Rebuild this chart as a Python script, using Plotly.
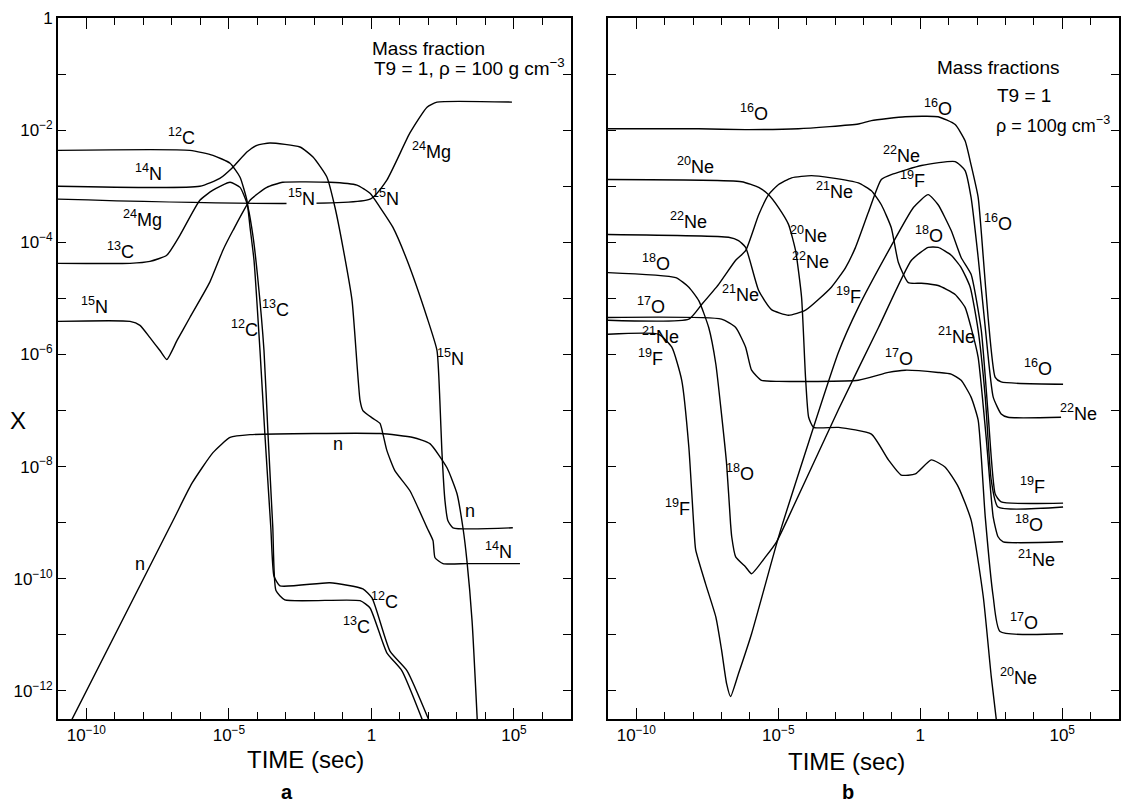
import plotly.graph_objects as go

# ---------------- Panel a : values are log10(time [s]) and log10(X) ----------------
a_C12_t = [-11, -6.37, -5.56, -4.96, -4.61, -4.37, -4.26, -4.12, -3.91, -3.74, -3.53, -3.42, -3.21, -1.46, -0.30, 0.02, 0.65, 1.25, 2.08]
a_C12_x = [-2.36, -2.36, -2.45, -2.59, -2.84, -3.25, -3.73, -4.32, -5.93, -7.41, -9.09, -9.95, -10.125, -10.07, -10.18, -10.34, -11.29, -11.64, -12.6]

a_C13_t = [-11, -8.47, -7.77, -7.18, -6.72, -6.02, -5.56, -4.96, -4.61, -4.37, -4.16, -3.98, -3.77, -3.63, -3.46, -3.35, -3.04, -0.40, -0.05, 0.54, 1.07, 1.85]
a_C13_x = [-4.375, -4.375, -4.34, -4.23, -3.875, -3.25, -3.07, -2.93, -3.02, -3.30, -3.875, -4.68, -5.93, -7.41, -9.09, -10.21, -10.375, -10.39, -10.52, -11.32, -11.64, -12.6]

a_N14_t = [-11, -6.02, -5.32, -4.86, -4.37, -4.02, -3.56, -2.51, -2.05, -1.56, -1.28, -1.0, -0.68, -0.40, -0.30, 0.05, 0.30, 0.40, 0.54, 0.82, 1.35, 1.95, 2.16, 2.23, 2.51, 3.35, 5.21]
a_N14_x = [-3.0, -3.0, -2.86, -2.66, -2.39, -2.27, -2.23, -2.30, -2.48, -2.84, -3.375, -4.09, -5.04, -6.82, -7.0, -7.14, -7.23, -7.41, -7.71, -8.07, -8.43, -9.09, -9.32, -9.625, -9.73, -9.73, -9.73]

a_N15_t = [-11, -8.47, -8.12, -7.77, -7.42, -7.18, -6.82, -6.37, -5.67, -5.21, -4.86, -4.26, -3.67, -3.11, -1.46, -0.51, -0.05, 0.30, 0.75, 1.25, 1.95, 2.30, 2.40, 2.47, 2.58, 2.68, 2.86, 4.96]
a_N15_x = [-5.41, -5.41, -5.48, -5.70, -5.93, -6.09, -5.75, -5.34, -4.71, -4.14, -3.79, -3.25, -3.02, -2.93, -2.93, -2.98, -3.125, -3.375, -3.73, -4.32, -5.34, -5.93, -6.82, -7.71, -8.61, -8.96, -9.09, -9.09]

a_n_t = [-10.7, -6.96, -6.3, -5.56, -4.96, -4.26, 0.30, 1.46, 2.05, 2.65, 3.0, 3.21, 3.35, 3.53, 3.72]
a_n_x = [-12.7, -8.96, -8.3, -7.75, -7.48, -7.43, -7.41, -7.48, -7.59, -8.02, -8.48, -9.09, -9.68, -10.75, -12.6]

a_Mg24_t = [-11, -0.05, 0.54, 1.35, 1.95, 2.30, 4.93]
a_Mg24_x = [-3.23, -3.23, -2.89, -2.05, -1.59, -1.5, -1.5]

# labels of panel a: (text, log10 t, log10 X)
a_label_text = ["<sup>12</sup>C", "<sup>14</sup>N", "<sup>24</sup>Mg", "<sup>13</sup>C", "<sup>15</sup>N",
                "<sup>12</sup>C", "<sup>13</sup>C", "n", "<sup>15</sup>N", "<sup>15</sup>N",
                "<sup>24</sup>Mg", "<sup>15</sup>N", "n", "n", "<sup>14</sup>N", "<sup>12</sup>C", "<sup>13</sup>C"]
a_label_t = [-6.65, -7.81, -8.02, -8.82, -9.70, -4.44, -3.35, -8.12, -2.44, 0.51, 2.12, 2.79, -1.18, 3.46, 4.47, 0.47, -0.51]
a_label_x = [-2.11, -2.75, -3.57, -4.14, -5.125, -5.54, -5.18, -9.73, -3.20, -3.20, -2.36, -6.05, -7.59, -8.79, -9.5, -10.39, -10.84]

# ---------------- Panel b ----------------
b_O16_t = [-11, -7.80, -6.15, -4.29, -2.18, -1.72, -0.53, 0.63, 1.23, 1.58, 1.79, 2.04, 2.22, 2.39, 2.64, 2.85, 5.03]
b_O16_x = [-1.975, -1.975, -1.99, -1.975, -1.89, -1.83, -1.76, -1.76, -1.90, -2.19, -2.62, -3.20, -4.27, -5.34, -6.41, -6.49, -6.53]

b_Ne20_t = [-11, -6.29, -5.69, -5.34, -4.99, -4.64, -4.39, -4.18, -4.04, -3.93, -3.76, -2.88, -1.72, -1.12, -0.67, -0.17, 0.39, 0.88, 1.34, 1.79, 2.22, 2.50, 2.70]
b_Ne20_x = [-2.88, -2.92, -3.02, -3.15, -3.38, -3.68, -4.15, -4.98, -6.41, -7.12, -7.30, -7.30, -7.42, -7.88, -8.15, -8.13, -7.88, -8.01, -8.36, -8.95, -10.32, -11.74, -12.6]

b_Ne22_t = [-11, -6.75, -6.40, -6.15, -5.69, -5.24, -4.64, -4.04, -3.13, -2.63, -2.28, -1.83, -1.37, -0.95, 0.04, 1.23, 1.58, 1.79, 2.04, 2.29, 2.57, 2.85, 3.09, 4.96]
b_Ne22_x = [-3.86, -3.91, -3.97, -4.09, -4.86, -5.20, -5.30, -5.21, -4.80, -4.45, -4.09, -3.47, -2.88, -2.78, -2.63, -2.56, -2.72, -3.20, -4.27, -5.52, -6.76, -7.06, -7.12, -7.12]

b_Ne21_t = [-11, -8.15, -7.70, -7.10, -6.50, -6.15, -5.69, -5.34, -4.99, -4.53, -3.83, -3.13, -2.18, -1.72, -1.37, -1.02, -0.77, -0.42, 0.04, 0.63, 1.23, 1.58, 1.79, 2.04, 2.32, 2.57, 2.74, 2.92, 5.03]
b_Ne21_x = [-5.39, -5.37, -5.11, -4.75, -4.32, -4.15, -3.51, -3.15, -2.97, -2.85, -2.81, -2.85, -2.94, -3.08, -3.33, -3.74, -4.36, -4.72, -4.73, -4.77, -4.93, -5.16, -5.52, -6.05, -7.47, -8.90, -9.25, -9.34, -9.34]

b_O17_t = [-11, -7.0, -6.50, -6.15, -5.94, -5.59, -4.99, -2.18, -1.12, -0.53, 0.63, 1.09, 1.44, 1.79, 2.04, 2.29, 2.57, 2.81, 5.03]
b_O17_x = [-5.34, -5.37, -5.52, -5.87, -6.28, -6.46, -6.48, -6.46, -6.32, -6.28, -6.32, -6.35, -6.46, -6.76, -7.17, -8.90, -10.32, -10.94, -10.98]

b_O18_t = [-11, -8.61, -8.15, -7.80, -7.45, -7.20, -7.0, -6.82, -6.68, -6.64, -6.50, -6.15, -5.94, -5.45, -5.06, -4.64, -2.88, -1.47, -0.31, 0.28, 0.63, 1.09, 1.44, 1.76, 2.04, 2.29, 2.50, 2.74, 5.03]
b_O18_x = [-4.54, -4.63, -4.80, -5.04, -5.52, -6.17, -7.06, -7.95, -9.02, -9.25, -9.61, -9.79, -9.91, -9.61, -9.34, -8.90, -6.98, -5.52, -4.32, -4.09, -4.09, -4.23, -4.45, -4.80, -5.57, -6.76, -8.24, -8.72, -8.72]

b_F19_t = [-11, -9.21, -8.75, -8.40, -8.15, -7.98, -7.91, -7.56, -7.20, -7.0, -6.82, -6.68, -6.40, -5.94, -5.45, -5.09, -4.88, -2.88, -2.18, -1.05, -0.24, 0.28, 0.63, 1.09, 1.44, 1.79, 2.15, 2.39, 2.64, 2.85, 5.03]
b_F19_x = [-5.64, -5.64, -5.87, -6.46, -7.65, -9.02, -9.48, -10.09, -10.68, -11.26, -11.87, -12.10, -11.69, -10.98, -10.09, -9.43, -9.07, -5.96, -5.16, -4.09, -3.38, -3.15, -3.33, -3.79, -4.27, -4.57, -5.57, -7.06, -8.49, -8.63, -8.65]

b_label_text = ["<sup>16</sup>O", "<sup>20</sup>Ne", "<sup>22</sup>Ne", "<sup>21</sup>Ne", "<sup>20</sup>Ne", "<sup>22</sup>Ne",
                "<sup>18</sup>O", "<sup>21</sup>Ne", "<sup>19</sup>F", "<sup>17</sup>O", "<sup>21</sup>Ne", "<sup>19</sup>F",
                "<sup>18</sup>O", "<sup>19</sup>F", "<sup>16</sup>O", "<sup>22</sup>Ne", "<sup>19</sup>F", "<sup>16</sup>O",
                "<sup>18</sup>O", "<sup>21</sup>Ne", "<sup>17</sup>O", "<sup>16</sup>O", "<sup>22</sup>Ne", "<sup>19</sup>F",
                "<sup>18</sup>O", "<sup>21</sup>Ne", "<sup>17</sup>O", "<sup>20</sup>Ne"]
b_label_t = [-5.87, -7.91, -8.15, -3.02, -3.93, -3.86, -9.31, -6.33, -2.53, -9.49, -9.14, -9.49,
             -6.36, -8.54, 0.63, -0.67, -0.28, 2.74, 0.32, 1.27, -0.74, 4.15, 5.56, 3.94,
             3.83, 4.08, 3.66, 3.45]
b_label_x = [-1.69, -2.63, -3.61, -3.08, -3.86, -4.32, -4.36, -4.91, -4.95, -5.12, -5.66, -6.05,
             -8.10, -8.72, -1.60, -2.44, -2.88, -3.65, -3.86, -5.66, -6.05, -6.23, -7.03, -8.33,
             -9.02, -9.64, -10.77, -11.74]

# axis ticks
x_major_exp = [-10, -5, 0, 5]
x_major_text = ["10<sup>−10</sup>", "10<sup>−5</sup>", "1", "10<sup>5</sup>"]
x_minor_exp = list(range(-11, 8))
y_major_exp = [0, -2, -4, -6, -8, -10, -12]
y_major_text = ["1", "10<sup>−2</sup>", "10<sup>−4</sup>", "10<sup>−6</sup>", "10<sup>−8</sup>", "10<sup>−10</sup>", "10<sup>−12</sup>"]
y_minor_exp = list(range(-12, 1))

FONT = "Liberation Sans"
W, H = 1121, 807

fig = go.Figure()


def add_curve(t, x, panel):
    fig.add_trace(go.Scatter(
        x=[10 ** v for v in t], y=[10 ** v for v in x], mode="lines",
        line=dict(color="black", width=1.4, shape="spline", smoothing=0.5),
        xaxis="x" if panel == "a" else "x2", yaxis="y" if panel == "a" else "y2",
        showlegend=False, hoverinfo="skip"))


for t, x in [(a_C12_t, a_C12_x), (a_C13_t, a_C13_x), (a_N14_t, a_N14_x), (a_N15_t, a_N15_x),
             (a_n_t, a_n_x), (a_Mg24_t, a_Mg24_x)]:
    add_curve(t, x, "a")
for t, x in [(b_O16_t, b_O16_x), (b_Ne20_t, b_Ne20_x), (b_Ne22_t, b_Ne22_x), (b_Ne21_t, b_Ne21_x),
             (b_O17_t, b_O17_x), (b_O18_t, b_O18_x), (b_F19_t, b_F19_x)]:
    add_curve(t, x, "b")

ann = []
for i, (txt, t, x) in enumerate(zip(a_label_text, a_label_t, a_label_x)):
    d = dict(text=txt, x=t, y=x, xref="x", yref="y", showarrow=False,
             font=dict(family=FONT, size=18, color="black"))
    if i == 8:
        d["bgcolor"] = "white"
    ann.append(d)
for txt, t, x in zip(b_label_text, b_label_t, b_label_x):
    ann.append(dict(text=txt, x=t, y=x, xref="x2", yref="y2", showarrow=False,
                    font=dict(family=FONT, size=18, color="black")))

# panel captions
ann += [
    dict(text="Mass fraction", x=-0.05, y=-0.54, xref="x", yref="y", xanchor="left", showarrow=False,
         font=dict(family=FONT, size=19, color="black")),
    dict(text="T9 = 1, ρ = 100 g cm<sup>−3</sup>", x=0.02, y=-0.875, xref="x", yref="y", xanchor="left",
         showarrow=False, font=dict(family=FONT, size=19, color="black")),
    dict(text="Mass fractions", x=0.53, y=-0.89, xref="x2", yref="y2", xanchor="left", showarrow=False,
         font=dict(family=FONT, size=19, color="black")),
    dict(text="T9 = 1", x=2.64, y=-1.39, xref="x2", yref="y2", xanchor="left", showarrow=False,
         font=dict(family=FONT, size=19, color="black")),
    dict(text="ρ = 100g cm<sup>−3</sup>", x=2.60, y=-1.90, xref="x2", yref="y2", xanchor="left",
         showarrow=False, font=dict(family=FONT, size=18, color="black")),
]

PT, PB = 18, 88
ph = H - PT - PB


def py(pix):
    return (H - PB - pix) / ph


def paper_text(text, px, pyy, size):
    return dict(text=text, x=px / W, y=py(pyy), xref="paper", yref="paper", showarrow=False,
                xanchor="center", yanchor="middle", font=dict(family=FONT, size=size, color="black"))


ann += [
    paper_text("X", 18, 420, 24),
    paper_text("TIME (sec)", 306, 759, 24),
    paper_text("TIME (sec)", 848, 761, 24),
    paper_text("<b>a</b>", 288, 792, 20),
    paper_text("<b>b</b>", 850, 792, 20),
]


def xaxis(domain, anchor):
    return dict(type="log", range=[-11, 7], domain=domain, anchor=anchor,
                showline=True, linecolor="black", linewidth=1.6, mirror="ticks",
                ticks="inside", ticklen=11, tickwidth=1.3, tickcolor="black",
                tickvals=[10 ** e for e in x_major_exp], ticktext=x_major_text,
                minor=dict(tickvals=[10 ** e for e in x_minor_exp], ticks="inside", ticklen=7,
                           tickwidth=1.2, tickcolor="black"),
                showgrid=False, zeroline=False,
                tickfont=dict(family=FONT, size=17, color="black"))


def yaxis(anchor, labels):
    return dict(type="log", range=[-12.5, 0], domain=[0, 1], anchor=anchor,
                showline=True, linecolor="black", linewidth=1.6, mirror="ticks",
                ticks="inside", ticklen=8, tickwidth=1.3, tickcolor="black",
                tickvals=[10 ** e for e in y_major_exp], ticktext=y_major_text,
                minor=dict(tickvals=[10 ** e for e in y_minor_exp], ticks="inside", ticklen=8,
                           tickwidth=1.2, tickcolor="black"),
                showticklabels=labels, showgrid=False, zeroline=False,
                tickfont=dict(family=FONT, size=17, color="black"))


fig.update_layout(
    width=W, height=H,
    margin=dict(l=0, r=0, t=PT, b=PB),
    paper_bgcolor="white", plot_bgcolor="white",
    xaxis=xaxis([58 / W, 572 / W], "y"),
    yaxis=yaxis("x", True),
    xaxis2=xaxis([609 / W, 1.0], "y2"),
    yaxis2=yaxis("x2", False),
    annotations=ann,
    font=dict(family=FONT, color="black"),
)

fig.write_html("out.html")
